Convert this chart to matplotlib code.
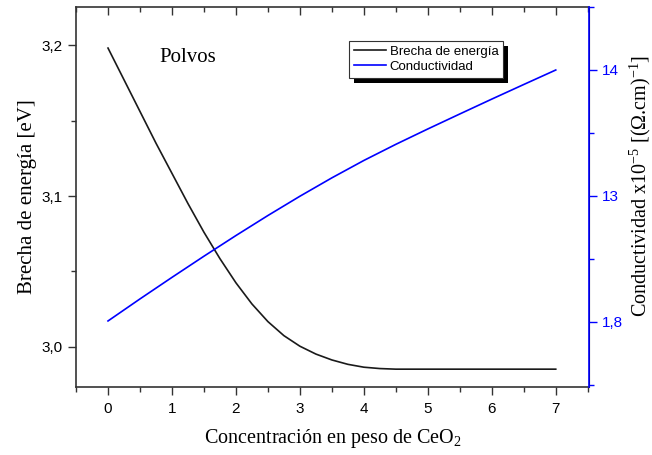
import matplotlib
matplotlib.use("Agg")
import matplotlib.pyplot as plt
from matplotlib.ticker import MultipleLocator, FixedLocator, FixedFormatter
from matplotlib.patches import Rectangle

# ---- data ----
conc_gap = [0, 0.25, 0.5, 0.75, 1.0, 1.25, 1.5, 1.75, 2.0, 2.25, 2.5, 2.75,
            3.0, 3.25, 3.5, 3.75, 4.0, 4.25, 4.5, 5.0, 5.5, 6.0, 6.5, 7.0]
gap = [3.198, 3.177, 3.156, 3.135, 3.115, 3.095, 3.076, 3.0585, 3.0425, 3.0285,
       3.0168, 3.0075, 3.0005, 2.9953, 2.9914, 2.9885, 2.9866, 2.9857, 2.9853,
       2.9853, 2.9853, 2.9853, 2.9853, 2.9853]

conc_cond = [0, 0.5, 1.0, 1.5, 2.0, 2.5, 3.0, 3.5, 4.0, 4.5, 5.0, 5.5, 6.0, 6.5, 7.0]
cond = [12.008, 12.183, 12.354, 12.522, 12.686, 12.845, 12.998, 13.144, 13.282,
        13.41, 13.532, 13.651, 13.769, 13.885, 14.0]

x_ticks = [0, 1, 2, 3, 4, 5, 6, 7]
left_ticks = [3.0, 3.1, 3.2]
left_labels = ["3,0", "3,1", "3,2"]
right_ticks = [12, 13, 14]
right_labels = ["1,8", "13", "14"]

plt.rcParams['mathtext.fontset'] = 'custom'
plt.rcParams['mathtext.rm'] = 'Liberation Serif'
plt.rcParams['mathtext.it'] = 'Liberation Serif:italic'
plt.rcParams['mathtext.bf'] = 'Liberation Serif:bold'

SANS = 'Liberation Sans'
SERIF = 'Liberation Serif'
spine_c = '#333333'

fig = plt.figure(figsize=(6.52, 4.55), dpi=100)
ax = fig.add_axes([0.1166, 0.1495, 0.9034 - 0.1166, 0.9846 - 0.1495])
ax2 = ax.twinx()

l1, = ax.plot(conc_gap, gap, color='#1a1a1a', lw=1.2, label='Brecha de energía')
l2, = ax2.plot(conc_cond, cond, color='#0000ff', lw=1.2, label='Conductividad')

ax.set_xlim(-0.5, 7.52)
ax.set_ylim(2.9735, 3.2252)
ax2.set_ylim(11.484, 14.5)

ax.xaxis.set_major_locator(FixedLocator(x_ticks))
ax.xaxis.set_minor_locator(MultipleLocator(0.5))
ax.yaxis.set_major_locator(FixedLocator(left_ticks))
ax.yaxis.set_major_formatter(FixedFormatter(left_labels))
ax.yaxis.set_minor_locator(MultipleLocator(0.05))
ax2.yaxis.set_major_locator(FixedLocator(right_ticks))
ax2.yaxis.set_major_formatter(FixedFormatter(right_labels))
ax2.yaxis.set_minor_locator(MultipleLocator(0.5))

ax.tick_params(axis='x', which='both', direction='out', bottom=True, top=False,
               labelsize=11, color=spine_c, width=1.0, pad=5)
ax.tick_params(axis='x', which='major', length=6)
ax.tick_params(axis='x', which='minor', length=3.5)
ax.tick_params(axis='y', which='both', direction='out', labelsize=11, color=spine_c, width=1.0)
ax.tick_params(axis='y', which='major', length=6)
ax.tick_params(axis='y', which='minor', length=3.5)
ax2.tick_params(axis='y', which='both', direction='out', labelsize=11,
                color='#0000ff', labelcolor='#0000ff', width=1.0)
ax2.tick_params(axis='y', which='major', length=6)
ax2.tick_params(axis='y', which='minor', length=3.5)

# top ticks inward
secx = ax.secondary_xaxis('top')
secx.xaxis.set_major_locator(FixedLocator(x_ticks))
secx.xaxis.set_minor_locator(MultipleLocator(0.5))
secx.tick_params(axis='x', which='both', direction='in', labeltop=False, color=spine_c, width=1.0)
secx.tick_params(axis='x', which='major', length=6)
secx.tick_params(axis='x', which='minor', length=3.5)
secx.spines['top'].set_visible(False)

for lab in ax.get_xticklabels() + ax.get_yticklabels() + ax2.get_yticklabels():
    lab.set_fontfamily(SANS)

for s in ['left', 'bottom', 'top']:
    ax.spines[s].set_color(spine_c)
    ax.spines[s].set_linewidth(1.2)
ax2.spines['right'].set_color('#0000ff')
ax2.spines['right'].set_linewidth(1.2)
for s in ['left', 'bottom', 'top']:
    ax2.spines[s].set_visible(False)

ax.set_xlabel('Concentración en peso de CeO$_2$', fontfamily=SERIF, fontsize=14.5)
ax.xaxis.set_label_coords(0.5, -0.106)
ax.set_ylabel('Brecha de energía [eV]', fontfamily=SERIF, fontsize=15)
ax.yaxis.set_label_coords(-0.076, 0.5)
ax2.set_ylabel(r'Conductividad x10$^{-5}$ [($\Omega$.cm)$^{-1}$]',
               fontfamily=SERIF, fontsize=14.5)
ax2.yaxis.set_label_coords(1.076, 0.53)

ax.text(0.8, 3.192, 'Polvos', fontfamily=SERIF, fontsize=15, va='center', ha='left')

leg = ax2.legend([l1, l2], ['Brecha de energía', 'Conductividad'],
                 loc='upper left', bbox_to_anchor=(0.533, 0.91),
                 prop={'family': SANS, 'size': 9.5}, frameon=True, fancybox=False,
                 edgecolor='#333333', framealpha=1, borderpad=0.35, labelspacing=0.2,
                 handlelength=2.4, handletextpad=0.3, borderaxespad=0)
leg.get_frame().set_linewidth(0.8)

fig.canvas.draw()
bb = leg.get_window_extent()
shadow = Rectangle((bb.x0 + 5, bb.y0 - 5), bb.width, bb.height, transform=None,
                   facecolor='black', edgecolor='none')
ax2.add_artist(shadow)
leg.set_zorder(10)
shadow.set_zorder(9)

fig.savefig('out.png', dpi=100)
